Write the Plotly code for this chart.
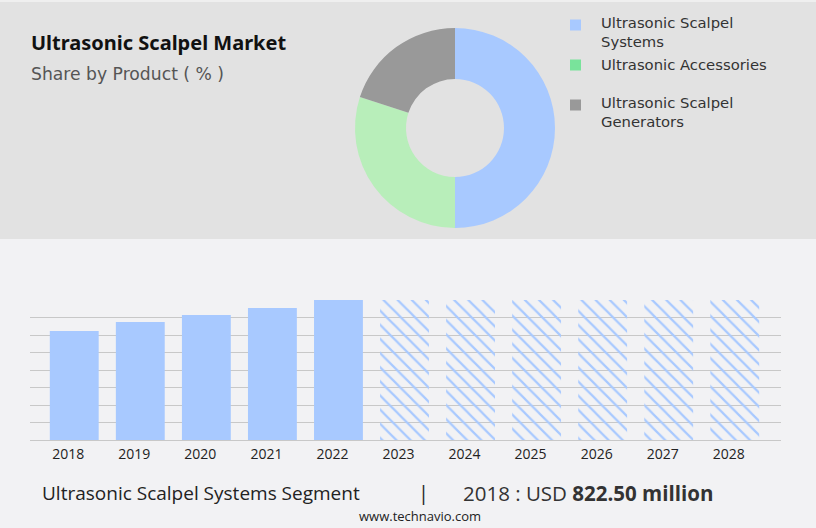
import plotly.graph_objects as go

W, H = 816, 528

# ---- data ----
pie_labels = ["Ultrasonic Scalpel Systems", "Ultrasonic Accessories", "Ultrasonic Scalpel Generators"]
pie_values = [50, 30, 20]
pie_colors = ["#a8c9ff", "#b8eeba", "#999999"]
legend_colors = ["#a8c9ff", "#79e39b", "#999999"]
legend_texts = ["Ultrasonic Scalpel<br>Systems", "Ultrasonic Accessories", "Ultrasonic Scalpel<br>Generators"]

hist_years = ["2018", "2019", "2020", "2021", "2022"]
hist_values = [822.5, 890, 943, 996, 1056]
fc_years = ["2023", "2024", "2025", "2026", "2027", "2028"]
fc_values = [1056, 1056, 1056, 1056, 1056, 1056]
all_years = hist_years + fc_years


def px(x):
    return x / W


def py(y):
    return 1 - y / H


fig = go.Figure()

fig.add_trace(go.Pie(
    labels=pie_labels, values=pie_values, sort=False, direction="clockwise", rotation=0,
    hole=0.49, marker=dict(colors=pie_colors, line=dict(width=0)), textinfo="none",
    showlegend=False, hoverinfo="label+percent",
    domain=dict(x=[px(355), px(555)], y=[py(228), py(28)]),
))

fig.add_trace(go.Bar(
    x=hist_years, y=hist_values, width=0.74, marker=dict(color="#a8c9ff", line=dict(width=0)),
    showlegend=False, xaxis="x", yaxis="y",
))
fig.add_trace(go.Bar(
    x=fc_years, y=fc_values, width=0.74,
    marker=dict(color="rgba(0,0,0,0)", line=dict(width=0),
                pattern=dict(shape="\\", fgcolor="#a8c9ff", bgcolor="rgba(0,0,0,0)",
                             fgopacity=1, size=10, solidity=0.22, fillmode="overlay")),
    showlegend=False, xaxis="x", yaxis="y",
))

shapes = [
    dict(type="rect", xref="paper", yref="paper", x0=0, x1=1, y0=py(239), y1=1,
         fillcolor="#e2e2e2", line=dict(width=0), layer="below"),
    dict(type="rect", xref="paper", yref="paper", x0=0, x1=1, y0=py(2), y1=1,
         fillcolor="#efefef", line=dict(width=0), layer="below"),
]
annotations = [
    dict(text="<b>Ultrasonic Scalpel Market</b>", x=px(29), y=py(43), xref="paper", yref="paper",
         xanchor="left", yanchor="middle", showarrow=False,
         font=dict(family="Noto Sans", size=20, color="#111111")),
    dict(text="Share by Product ( % )", x=px(29), y=py(74), xref="paper", yref="paper",
         xanchor="left", yanchor="middle", showarrow=False,
         font=dict(family="DejaVu Sans", size=17.2, color="#555555")),
]

leg_y = [32.5, 64, 112]
sq_y = [25, 65, 105]
for i, t in enumerate(legend_texts):
    shapes.append(dict(type="rect", xref="paper", yref="paper", x0=px(570), x1=px(581),
                       y0=py(sq_y[i] + 5.5), y1=py(sq_y[i] - 5.5),
                       fillcolor=legend_colors[i], line=dict(width=0)))
    annotations.append(dict(text=t, x=px(599), y=py(leg_y[i]), xref="paper", yref="paper",
                            xanchor="left", yanchor="middle", align="left", showarrow=False,
                            font=dict(family="DejaVu Sans", size=14.8, color="#333333")))

annotations += [
    dict(text="Ultrasonic Scalpel Systems Segment", x=px(40), y=py(493), xref="paper", yref="paper",
         xanchor="left", yanchor="middle", showarrow=False,
         font=dict(family="Open Sans", size=19, color="#222222")),
    dict(text="|", x=px(423), y=py(492), xref="paper", yref="paper",
         xanchor="center", yanchor="middle", showarrow=False,
         font=dict(family="Open Sans", size=20, color="#222222")),
    dict(text="2018 : USD <b>822.50 million</b>", x=px(461), y=py(493), xref="paper", yref="paper",
         xanchor="left", yanchor="middle", showarrow=False,
         font=dict(family="Open Sans", size=20.5, color="#333333")),
    dict(text="www.technavio.com", x=px(420), y=py(516), xref="paper", yref="paper",
         xanchor="center", yanchor="middle", showarrow=False,
         font=dict(family="Open Sans", size=13, color="#222222")),
]

fig.update_layout(
    width=W, height=H, margin=dict(l=0, r=0, t=0, b=0),
    paper_bgcolor="#f2f2f4", plot_bgcolor="rgba(0,0,0,0)",
    barmode="overlay",
    shapes=shapes, annotations=annotations,
    xaxis=dict(domain=[px(30), px(781)], type="category", categoryorder="array",
               categoryarray=all_years, range=[-0.67, 10.7],
               showgrid=False, showline=False, ticks="", zeroline=False,
               ticklabelstandoff=4, ticklabelshift=-6,
               tickfont=dict(family="Open Sans", size=14, color="#222222")),
    yaxis=dict(domain=[py(440), py(300)], range=[0, 1056], dtick=132, showticklabels=False,
               gridcolor="#c8c8c8", gridwidth=1, zeroline=True, zerolinecolor="#c8c8c8",
               zerolinewidth=1, showline=False, ticks=""),
)

fig.write_html("out.html", config={"displayModeBar": False},
               post_script="document.body.style.margin='0';document.body.style.padding='0';")
